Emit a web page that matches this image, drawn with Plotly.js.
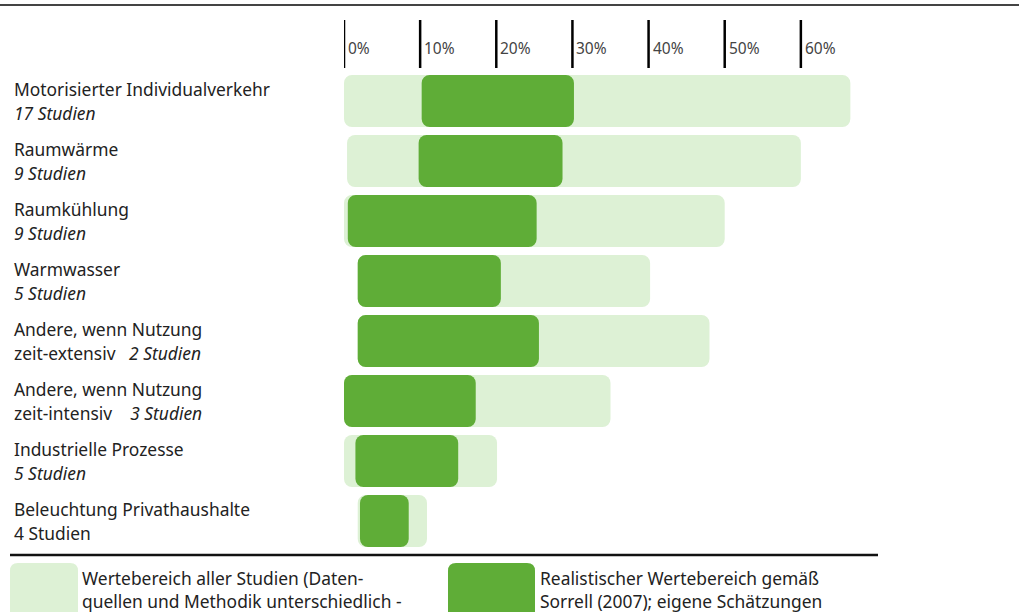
<!DOCTYPE html>
<html><head><meta charset="utf-8">
<script src="https://cdn.plot.ly/plotly-3.0.1.min.js"></script>
<style>html,body{margin:0;padding:0;background:#fff}</style>
</head><body><div id="chart" style="width:1019px;height:612px"></div>
<script>
const categories = ['MIV','Raumwaerme','Raumkuehlung','Warmwasser','AndereExt','AndereInt','Industrie','Beleuchtung'];
const labelLine1 = ['Motorisierter Individualverkehr','Raumwärme','Raumkühlung','Warmwasser','Andere, wenn Nutzung','Andere, wenn Nutzung','Industrielle Prozesse','Beleuchtung Privathaushalte'];
const labelLine2 = ['<i>17 Studien</i>','<i>9 Studien</i>','<i>9 Studien</i>','<i>5 Studien</i>','zeit-extensiv   <i>2 Studien</i>','zeit-intensiv    <i>3 Studien</i>','<i>5 Studien</i>','4 Studien'];
const allLow   = [0, 0.4, 0, 1.8, 1.8, 0, 0, 1.8];
const allHigh  = [66.5, 60, 50, 40.2, 48, 35, 20.1, 10.9];
const realLow  = [10.2, 9.8, 0.5, 1.8, 1.8, 0, 1.5, 2.1];
const realHigh = [30.2, 28.7, 25.3, 20.6, 25.6, 17.3, 15, 8.5];
const tickVals = [0,10,20,30,40,50,60];
const tickText = ['0%','10%','20%','30%','40%','50%','60%'];
const legendText1 = ['Wertebereich aller Studien (Daten-','quellen und Methodik unterschiedlich -'];
const legendText2 = ['Realistischer Wertebereich gemäß','Sorrell (2007); eigene Schätzungen'];

const W=1019,H=612,ML=344,MR=142,MT=71,MB=61;
const PW=W-ML-MR, PH=H-MT-MB;
const px=x=>(x-ML)/PW, py=y=>(H-MB-y)/PH;
const FONT='"Noto Sans", "Open Sans", sans-serif';
const LIGHT='#ddf1d5', DARK='#5fad37';
const FS=17.4;

const traces=[
 {type:'bar',orientation:'h',y:categories,base:allLow,x:allHigh.map((h,i)=>h-allLow[i]),
  marker:{color:LIGHT,cornerradius:8},width:0.87,hoverinfo:'skip',showlegend:false},
 {type:'bar',orientation:'h',y:categories,base:realLow,x:realHigh.map((h,i)=>h-realLow[i]),
  marker:{color:DARK,cornerradius:8},width:0.87,hoverinfo:'skip',showlegend:false}
];

function rrect(x0,y0,x1,y1,r){
  const X=v=>px(v).toFixed(5), Y=v=>py(v).toFixed(5);
  return `M ${X(x0+r)} ${Y(y0)} L ${X(x1-r)} ${Y(y0)} Q ${X(x1)} ${Y(y0)} ${X(x1)} ${Y(y0+r)} L ${X(x1)} ${Y(y1-r)} Q ${X(x1)} ${Y(y1)} ${X(x1-r)} ${Y(y1)} L ${X(x0+r)} ${Y(y1)} Q ${X(x0)} ${Y(y1)} ${X(x0)} ${Y(y1-r)} L ${X(x0)} ${Y(y0+r)} Q ${X(x0)} ${Y(y0)} ${X(x0+r)} ${Y(y0)} Z`;
}

const shapes=[
 {type:'line',xref:'paper',yref:'paper',x0:px(0),x1:px(1019),y0:py(5),y1:py(5),line:{color:'#444',width:2}},
 {type:'line',xref:'paper',yref:'paper',x0:px(10),x1:px(878),y0:py(555),y1:py(555),line:{color:'#111',width:2.5}},
 {type:'path',xref:'paper',yref:'paper',path:rrect(10,563,78,625,8),fillcolor:LIGHT,line:{width:0}},
 {type:'path',xref:'paper',yref:'paper',path:rrect(448,563,535,625,8),fillcolor:DARK,line:{width:0}}
];
tickVals.forEach(v=>shapes.push({type:'line',xref:'x',yref:'paper',x0:v,x1:v,y0:py(20),y1:py(68),line:{color:'#000',width:2.5}}));

const annotations=[];
tickVals.forEach((v,i)=>annotations.push({xref:'x',yref:'paper',x:v,y:py(48),text:tickText[i],showarrow:false,xanchor:'left',yanchor:'middle',xshift:2,font:{family:FONT,size:15.5,color:'#444'}}));
categories.forEach((c,i)=>{
  annotations.push({xref:'paper',yref:'y',x:px(12),y:c,yshift:12,text:labelLine1[i],showarrow:false,xanchor:'left',yanchor:'middle',font:{family:FONT,size:FS,color:'#222'}});
  annotations.push({xref:'paper',yref:'y',x:px(12),y:c,yshift:-12,text:labelLine2[i],showarrow:false,xanchor:'left',yanchor:'middle',font:{family:FONT,size:FS,color:'#222'}});
});
legendText1.forEach((t,i)=>annotations.push({xref:'paper',yref:'paper',x:px(80),y:py(578+i*23),text:t,showarrow:false,xanchor:'left',yanchor:'middle',font:{family:FONT,size:FS,color:'#222'}}));
legendText2.forEach((t,i)=>annotations.push({xref:'paper',yref:'paper',x:px(538),y:py(578+i*23),text:t,showarrow:false,xanchor:'left',yanchor:'middle',font:{family:FONT,size:FS,color:'#222'}}));

const layout={
 width:W,height:H,margin:{l:ML,r:MR,t:MT,b:MB},
 paper_bgcolor:'#fff',plot_bgcolor:'#fff',barmode:'overlay',
 xaxis:{range:[0,70],showgrid:false,zeroline:false,showticklabels:false,ticks:'',showline:false,fixedrange:true},
 yaxis:{type:'category',categoryorder:'array',categoryarray:categories,range:[7.5,-0.5],showgrid:false,zeroline:false,showticklabels:false,ticks:'',showline:false,fixedrange:true},
 shapes:shapes,annotations:annotations,showlegend:false
};
Plotly.newPlot('chart',traces,layout,{displayModeBar:false,staticPlot:true});
</script></body></html>
